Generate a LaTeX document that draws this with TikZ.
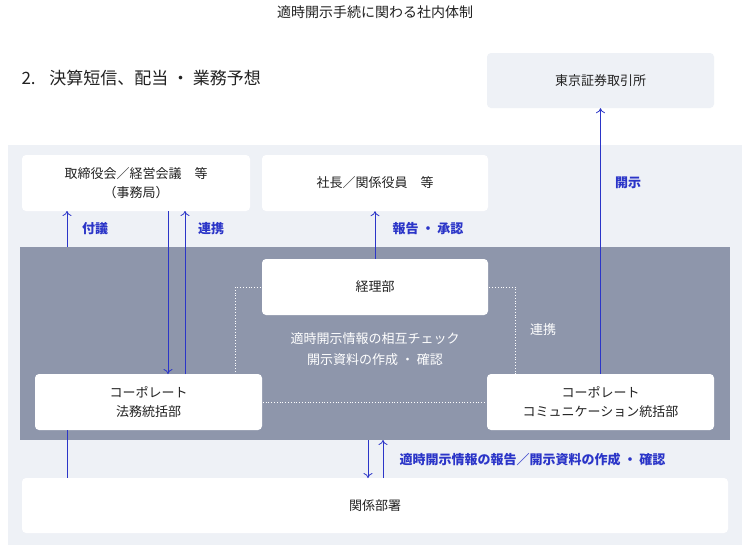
\documentclass[tikz,border=0pt]{standalone}
\usepackage{fontspec}
\newfontfamily\cjk{Noto Sans CJK JP}
\newfontfamily\cjkm{Noto Sans CJK JP Medium}
\usetikzlibrary{arrows.meta}
\definecolor{bgl}{HTML}{EEF1F6}
\definecolor{dark}{HTML}{8E96AB}
\definecolor{blu}{HTML}{2B35C8}
\definecolor{txt}{HTML}{222222}
\tikzset{
 wbox/.style={draw=none,fill=white,rounded corners=4pt,font=\cjk\fontsize{13}{19}\selectfont,text=txt,align=center},
 arr/.style={blu,line width=0.8pt,-{To[length=5pt,width=9pt]}},
 bl/.style={blu,line width=0.8pt},
 lbl/.style={text=blu,font=\cjk\bfseries\fontsize{13}{15}\selectfont},
 wl/.style={text=white,font=\cjk\fontsize{13}{16}\selectfont}
}
\begin{document}
\begin{tikzpicture}[x=1pt,y=-1pt]
\useasboundingbox (0,0) rectangle (750,552);
\fill[white] (0,0) rectangle (750,552);
\node[text=txt,font=\cjk\fontsize{14}{16}\selectfont] (title) at (375,12) {適時開示手続に関わる社内体制};
\node[anchor=west,text=txt,font=\cjk\fontsize{17}{19}\selectfont] (sec) at (18,78) {2.\hspace{0.8em}決算短信、配当 ・ 業務予想};
\node[wbox,fill=bgl,minimum width=227pt,minimum height=55pt] (tse) at (600.5,80.5) {東京証券取引所};
\fill[bgl] (8,145) rectangle (742,545);
\fill[dark] (20,247) rectangle (730,440);
\draw[white,line width=0.8pt,dotted] (235,287) rectangle (515,402);
\node[wbox,minimum width=228pt,minimum height=56pt] (bod) at (136,183) {取締役会／経営会議　等\\（事務局）};
\node[wbox,minimum width=226pt,minimum height=56pt] (pres) at (375,183) {社長／関係役員　等};
\node[wbox,minimum width=226pt,minimum height=56pt] (acc) at (375,287) {経理部};
\node[wbox,minimum width=227pt,minimum height=56pt] (legal) at (148.5,402) {コーポレート\\法務統括部};
\node[wbox,minimum width=227pt,minimum height=56pt] (comm) at (600.5,402) {コーポレート\\コミュニケーション統括部};
\node[wbox,minimum width=706pt,minimum height=55pt] (rel) at (375,505.5) {関係部署};
\node[wl] (m1) at (375,339) {適時開示情報の相互チェック};
\node[wl] (m2) at (375,360) {開示資料の作成 ・ 確認};
\node[wl] (renk2) at (543,330) {連携};
\coordinate (c1) at (67,247);
\draw[arr] (c1) -- (67,211);
\node[lbl] (l1) at (95,229) {付議};
\draw[arr] (168,211) -- (168,374);
\draw[arr] (185,374) -- (185,211);
\node[lbl] (l2) at (211,229) {連携};
\draw[arr] (acc.north) -- (pres.south);
\node[lbl] (l3) at (428,229) {報告 ・ 承認};
\draw[arr] (comm.north) -- (tse.south);
\node[lbl] (l4) at (628,183) {開示};
\draw[bl] (67,430) -- (67,478);
\draw[arr] (368,440) -- (368,478);
\draw[arr] (383,478) -- (383,440);
\node[lbl,anchor=west] (l5) at (396,460) {適時開示情報の報告／開示資料の作成 ・ 確認};
\end{tikzpicture}
\end{document}
